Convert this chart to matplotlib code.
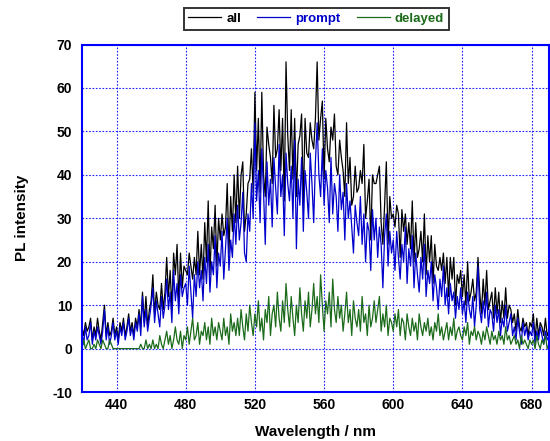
import numpy as np
import matplotlib
matplotlib.use("Agg")
import matplotlib.pyplot as plt

# wavelength grid, 1 nm steps (420 .. 690 nm)
wavelength = np.arange(420, 691, 1)

# values, one row per 10 nm
prompt = [
    4, 1, 5, 2, 3, 6, 1, 4, 2, 5,
    3, 1, 4, 9, 2, 5, 1, 3, 6, 2,
    4, 1, 5, 3, 6, 2, 4, 7, 3, 5,
    2, 6, 4, 8, 3, 12, 5, 9, 4, 7,
    10, 14, 6, 11, 8, 5, 12, 7, 10, 16,
    9, 13, 6, 18, 11, 15, 8, 17, 12, 14,
    15, 10, 19, 13, 7, 17, 12, 20, 14, 18,
    11, 21, 15, 24, 13, 20, 17, 26, 14, 22,
    19, 27, 16, 23, 30, 18, 25, 21, 31, 24,
    33, 25, 29, 36, 22, 20, 31, 27, 38, 30,
    52, 34, 41, 29, 46, 36, 24, 43, 33, 39,
    28, 44, 37, 31, 47, 35, 40, 26, 45, 38,
    34, 42, 30, 48, 23, 39, 33, 44, 27, 41,
    36, 30, 45, 38, 29, 43, 52, 40, 35, 46,
    33, 41, 37, 29, 44, 31, 38, 35, 27, 40,
    32, 36, 25, 38, 30, 34, 28, 22, 33, 29,
    26, 35, 24, 31, 20, 29, 27, 18, 32, 25,
    30, 21, 28, 24, 14, 26, 31, 19, 27, 22,
    25, 18, 27, 21, 16, 24, 20, 28, 15, 23,
    19, 26, 14, 22, 17, 13, 21, 16, 24, 12,
    18, 15, 20, 11, 17, 14, 9, 16, 12, 19,
    10, 14, 8, 15, 11, 13, 7, 12, 9, 14,
    8, 11, 6, 13, 9, 7, 12, 5, 10, 19,
    9, 6, 11, 7, 13, 5, 9, 8, 4, 10,
    6, 9, 3, 7, 5, 10, 4, 6, 8, 3,
    5, 2, 7, 4, 1, 6, 3, 5, 2, 4,
    3, 6, 1, 4, 2, 5, 3, 1, 4, 2,
    3,
]

delayed = [
    0, 2, 0, 1, 2, 0, 0, 1, 0, 2,
    1, 0, 2, 1, 0, 0, 2, 1, 0, 0,
    0, 0, 0, 0, 0, 0, 0, 0, 0, 0,
    0, 0, 0, 0, 1, 0, 0, 2, 0, 1,
    0, 2, 0, 1, 0, 3, 1, 0, 2, 4,
    1, 3, 0, 2, 5, 2, 1, 4, 0, 3,
    2, 5, 1, 4, 7, 2, 3, 6, 1, 4,
    3, 6, 2, 5, 1, 7, 3, 5, 2, 6,
    4, 2, 7, 3, 5, 1, 8, 4, 6, 3,
    7, 3, 9, 5, 2, 8, 4, 10, 6, 3,
    8, 5, 11, 4, 7, 2, 9, 6, 12, 3,
    8, 10, 5, 13, 7, 4, 11, 6, 15, 9,
    5, 12, 7, 3, 10, 6, 14, 8, 4, 11,
    7, 13, 5, 9, 15, 8, 12, 6, 17, 10,
    4, 11, 8, 13, 5, 16, 9, 6, 12, 7,
    10, 4, 8, 13, 6, 9, 3, 11, 7, 5,
    9, 4, 12, 6, 8, 3, 10, 5, 7, 11,
    6, 9, 12, 4, 8, 5, 10, 3, 7, 6,
    4, 8, 5, 9, 3, 7, 6, 2, 8, 5,
    3, 7, 4, 6, 2, 8, 5, 3, 6, 4,
    7, 3, 5, 2, 6, 4, 8, 3, 5, 2,
    4, 6, 2, 5, 3, 7, 2, 4, 5, 3,
    2, 5, 3, 6, 1, 4, 3, 5, 2, 4,
    3, 1, 4, 2, 5, 3, 1, 4, 2, 3,
    1, 4, 2, 3, 1, 5, 2, 3, 1, 2,
    3, 1, 2, 0, 3, 1, 2, 1, 0, 2,
    1, 2, 0, 3, 1, 0, 2, 1, 3, 0,
    1,
]

all_pl = [
    5, 3, 6, 4, 5, 7, 2, 5, 3, 7,
    4, 2, 6, 10, 3, 6, 3, 4, 7, 3,
    5, 2, 6, 4, 7, 3, 5, 8, 4, 6,
    3, 7, 5, 9, 5, 13, 6, 12, 5, 9,
    11, 17, 8, 13, 10, 9, 15, 9, 13, 21,
    12, 18, 9, 22, 17, 24, 11, 22, 14, 19,
    18, 17, 22, 19, 16, 21, 17, 27, 17, 24,
    16, 29, 20, 34, 17, 28, 23, 33, 19, 30,
    25, 31, 26, 28, 38, 22, 35, 27, 40, 29,
    42, 30, 40, 43, 27, 31, 38, 39, 46, 36,
    59, 41, 53, 36, 59, 40, 35, 51, 47, 44,
    38, 56, 44, 46, 55, 41, 53, 34, 66, 49,
    41, 55, 39, 53, 35, 47, 49, 54, 33, 53,
    45, 44, 52, 48, 46, 53, 66, 48, 53, 57,
    39, 53, 46, 43, 51, 48, 54, 42, 40, 48,
    44, 41, 35, 52, 38, 44, 33, 35, 42, 36,
    37, 41, 38, 47, 30, 34, 39, 25, 40, 38,
    38, 40, 42, 29, 24, 33, 43, 24, 35, 30,
    31, 28, 33, 31, 21, 32, 27, 31, 24, 29,
    23, 34, 20, 29, 21, 23, 27, 20, 31, 17,
    26, 20, 26, 15, 24, 19, 18, 21, 18, 22,
    15, 21, 12, 21, 16, 21, 10, 17, 15, 18,
    12, 17, 10, 20, 11, 13, 16, 11, 13, 21,
    13, 8, 16, 10, 18, 9, 11, 13, 7, 14,
    8, 13, 6, 11, 7, 14, 7, 10, 9, 6,
    8, 4, 9, 5, 4, 7, 5, 6, 3, 6,
    5, 8, 2, 7, 3, 6, 5, 3, 7, 3,
    4,
]

xticks = [440, 480, 520, 560, 600, 640, 680]
yticks = [-10, 0, 10, 20, 30, 40, 50, 60, 70]

plt.rcParams['font.family'] = ['Liberation Sans', 'DejaVu Sans']
plt.rcParams['font.weight'] = 'bold'
plt.rcParams['axes.unicode_minus'] = False

fig = plt.figure(figsize=(5.5, 4.41), dpi=100)
ax = fig.add_axes([0.149, 0.111, 0.849, 0.788])

ax.plot(wavelength, all_pl, color='black', lw=0.9, label='all')
ax.plot(wavelength, prompt, color='#0000cc', lw=0.9, label='prompt')
ax.plot(wavelength, delayed, color='#1b6b1b', lw=0.9, label='delayed')

ax.set_xlim(420, 690)
ax.set_ylim(-10, 70)
ax.set_xticks(xticks)
ax.set_yticks(yticks)
ax.tick_params(axis='x', length=0, pad=4, labelsize=10)
ax.tick_params(axis='y', length=0, pad=7, labelsize=10)
ax.grid(True, color='#2020ff', linestyle=(0, (1.5, 1.5)), lw=0.8)
for s in ax.spines.values():
    s.set_color('#0000ff')
    s.set_linewidth(1.5)

ax.set_xlabel('Wavelength / nm', fontsize=11, fontweight='bold', labelpad=10)
ax.set_ylabel('PL intensity', fontsize=11, fontweight='bold', labelpad=17)

leg = fig.legend(loc='center', bbox_to_anchor=(0.575, 0.957), ncol=3,
                 fontsize=9.5, handlelength=2.5, handletextpad=0.4,
                 columnspacing=1.2, frameon=True, fancybox=False,
                 borderpad=0.35)
leg.get_frame().set_edgecolor('black')
leg.get_frame().set_linewidth(1.4)
for t, c in zip(leg.get_texts(), ['black', '#0000cc', '#1b6b1b']):
    t.set_color(c)
    t.set_fontweight('bold')

fig.savefig('out.png', dpi=100)
